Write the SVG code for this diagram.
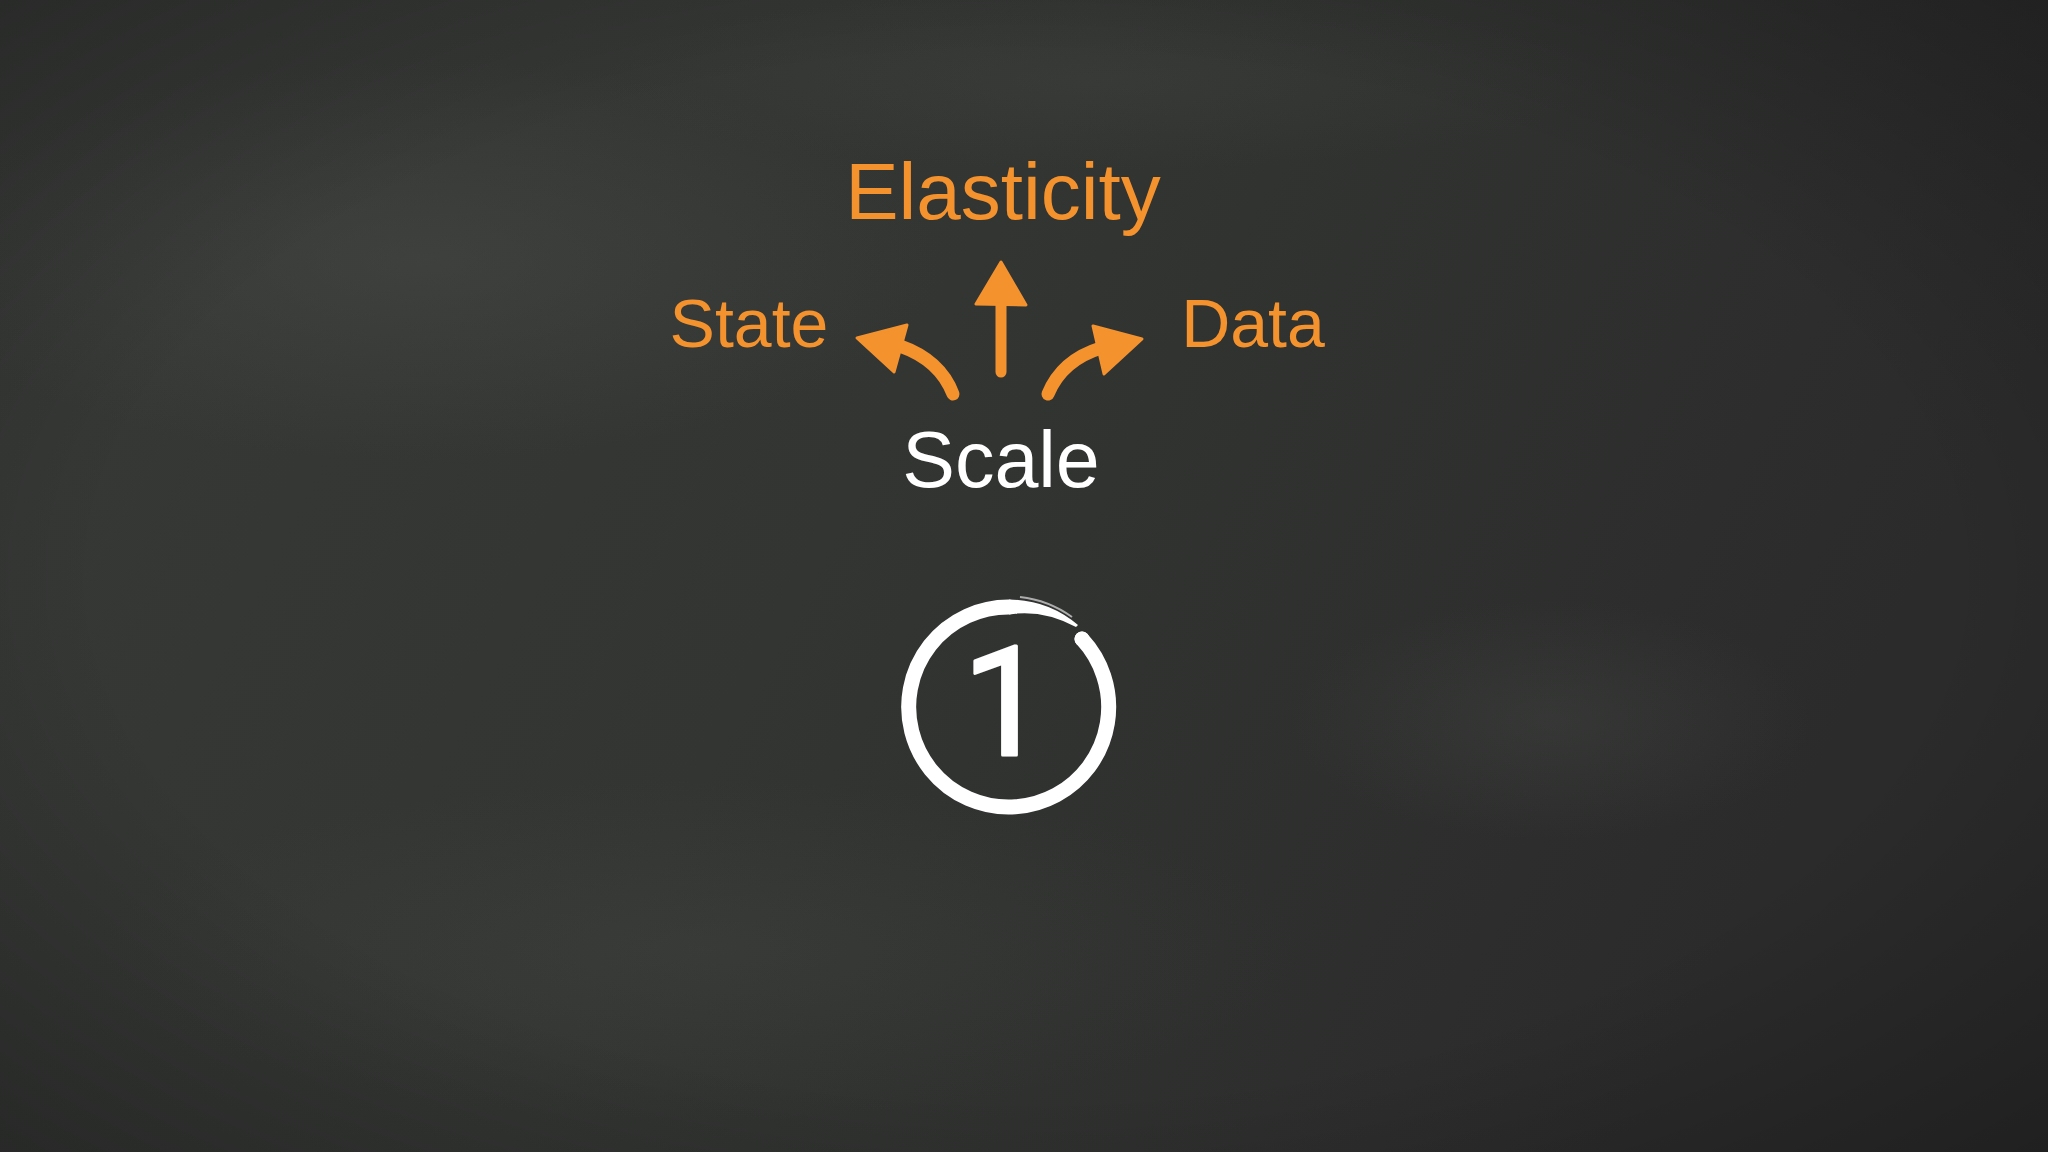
<svg xmlns="http://www.w3.org/2000/svg" width="2048" height="1152" viewBox="0 0 2048 1152">
  <defs>
    <linearGradient id="bg" x1="0" y1="0" x2="1" y2="0.3">
      <stop offset="0" stop-color="#373937"/>
      <stop offset="0.5" stop-color="#333533"/>
      <stop offset="1" stop-color="#2a2b2a"/>
    </linearGradient>
    <radialGradient id="smudge" cx="0.5" cy="0.5" r="0.5">
      <stop offset="0" stop-color="#4a4c4a" stop-opacity="0.45"/>
      <stop offset="1" stop-color="#4a4c4a" stop-opacity="0"/>
    </radialGradient>
    <radialGradient id="vignette" cx="0.5" cy="0.5" r="0.75">
      <stop offset="0.6" stop-color="#000" stop-opacity="0"/>
      <stop offset="1" stop-color="#000" stop-opacity="0.3"/>
    </radialGradient>
    <style>
      .lbl { font-family: "Liberation Sans", Arial, Helvetica, sans-serif; }
      .num { font-family: Roboto, "Liberation Sans", Arial, sans-serif; stroke: #FFFFFF; stroke-width: 3; stroke-linejoin: round; }
      .orange { fill: #F4922E; }
      .white { fill: #FFFFFF; }
      .shaft { fill: none; stroke: #F4922E; stroke-linecap: round; }
      .head { fill: #F4922E; stroke: #F4922E; stroke-width: 3; stroke-linejoin: round; }
      .ring { fill: none; stroke: #FFFFFF; stroke-linecap: round; }
    </style>
  </defs>

  <g id="background">
    <rect width="2048" height="1152" fill="url(#bg)"/>
    <ellipse cx="420" cy="260" rx="520" ry="200" fill="url(#smudge)"/>
    <ellipse cx="1550" cy="720" rx="260" ry="120" fill="url(#smudge)" opacity="0.7"/>
    <ellipse cx="700" cy="950" rx="600" ry="170" fill="url(#smudge)" opacity="0.6"/>
    <ellipse cx="1100" cy="80" rx="500" ry="90" fill="url(#smudge)" opacity="0.5"/>
    <rect width="2048" height="1152" fill="url(#vignette)"/>
  </g>

  <g id="connectors">
    <g id="arrow-scale-elasticity">
      <path class="shaft" d="M1001 372 L1001 300" stroke-width="11"/>
      <polygon class="head" points="1001,262 976,304 1026,305"/>
    </g>
    <g id="arrow-scale-state">
      <path class="shaft" d="M953 394 Q940 360 900 346" stroke-width="13"/>
      <polygon class="head" points="857,338 907,325 894,372"/>
    </g>
    <g id="arrow-scale-data">
      <path class="shaft" d="M1048 394 Q1062 360 1101 348" stroke-width="13"/>
      <polygon class="head" points="1142,339 1093,326 1104,374"/>
    </g>
  </g>

  <g id="node-elasticity">
    <text class="lbl orange" x="1003" y="219" font-size="80" text-anchor="middle">Elasticity</text>
  </g>
  <g id="node-state">
    <text class="lbl orange" x="749" y="347" font-size="68" text-anchor="middle">State</text>
  </g>
  <g id="node-data">
    <text class="lbl orange" x="1253" y="347" font-size="68" text-anchor="middle">Data</text>
  </g>
  <g id="node-scale">
    <text class="lbl white" x="1001" y="487" font-size="79" text-anchor="middle">Scale</text>
  </g>

  <g id="node-step-1">
    <path class="ring" d="M1082 639 A100 100 0 1 1 1009 607" stroke-width="15" stroke-linecap="butt"/>
    <circle cx="1082" cy="639" r="7.5" fill="#FFFFFF"/>
    <path d="M1009 599.5 A107.5 107.5 0 0 1 1078 625 L1076 627 Q1042.5 609 1009 614.5 Z" fill="#FFFFFF"/>
    <path d="M1020 597 A110 110 0 0 1 1072 617" fill="none" stroke="#FFFFFF" stroke-width="2" opacity="0.6"/>
    <text class="num white" x="1005" y="755" font-size="152" text-anchor="middle">1</text>
  </g>
</svg>
